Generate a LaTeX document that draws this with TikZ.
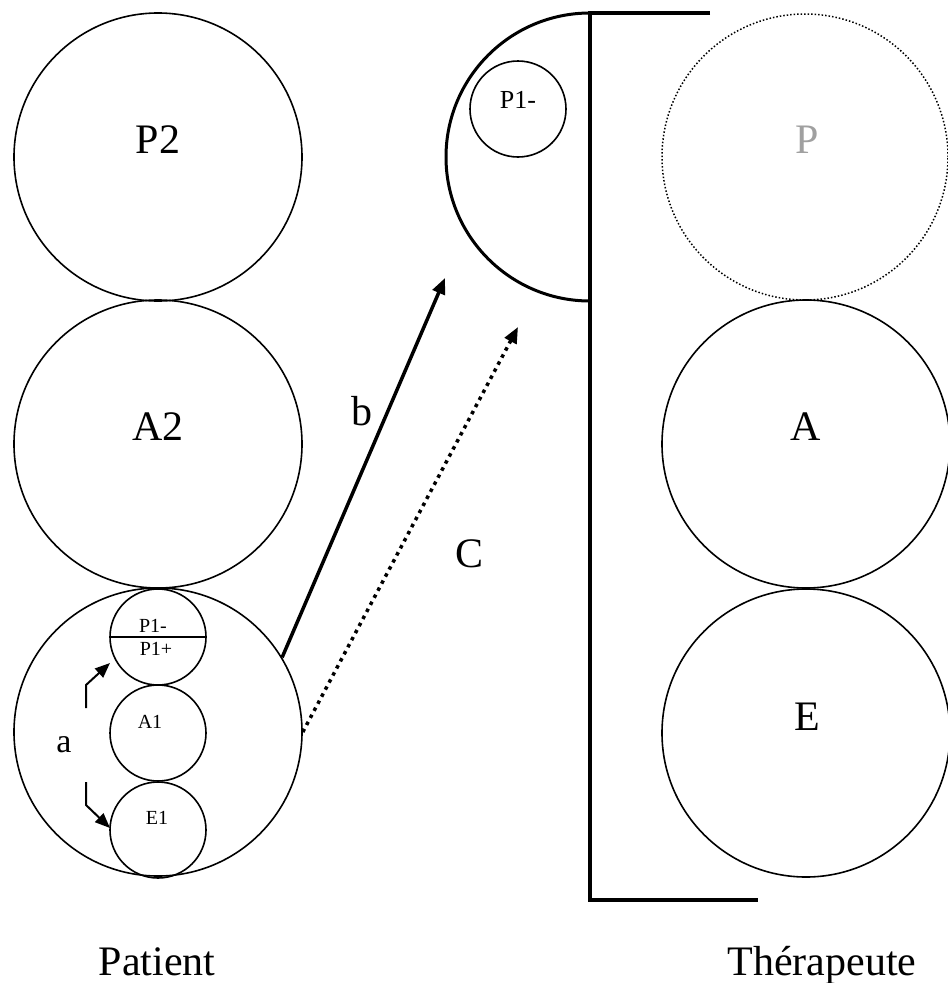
\documentclass[tikz,border=0pt]{standalone}
\usepackage{fontspec}
\setmainfont{Liberation Serif}
\usetikzlibrary{arrows.meta}
\definecolor{lbgray}{HTML}{A0A0A0}
\begin{document}
\begin{tikzpicture}[x=1pt,y=-1pt,
  circ/.style={draw, circle, line width=1.6pt, inner sep=0pt, minimum size=#1},
  dotcirc/.style={draw, circle, line width=1.5pt, dash pattern=on 1.5pt off 2pt, inner sep=0pt, minimum size=#1},
  big/.style={anchor=base, inner sep=0pt, font=\fontsize{42}{48}\selectfont},
  mid/.style={anchor=base, inner sep=0pt, font=\fontsize{26}{30}\selectfont},
  small/.style={anchor=base, inner sep=0pt, font=\fontsize{20}{24}\selectfont},
  thickarrow/.style={line width=3.5pt, -{Triangle[length=16pt,width=13pt]}},
  dotarrow/.style={line width=3.5pt, dash pattern=on 3.5pt off 4.5pt, -{Triangle[length=16pt,width=13pt]}},
  aarrow/.style={line width=2pt, -{Triangle[length=15pt,width=12pt]}},
  heavy/.style={line width=3.5pt},
]
\useasboundingbox (0,0) rectangle (948,983);

% Patient side
\node[circ=288pt] (P2) at (158,157) {};
\node[circ=288pt] (A2) at (158,444) {};
\node[circ=288pt] (PA) at (158,732) {};
\node[circ=96pt] (P1) at (158,637) {};
\node[circ=96pt] (A1) at (158,733) {};
\node[circ=96pt] (E1) at (158,830) {};
\draw[line width=1.6pt] (P1.west) -- (P1.east);

\node[big] (lP2) at (158,153) {P2};
\node[big] (lA2) at (158,440) {A2};
\node[small] (lP1m) at (153,632) {P1-};
\node[small] (lP1p) at (156,655) {P1+};
\node[small] (lA1) at (150,728) {A1};
\node[small] (lE1) at (157,824) {E1};

% arrow a
\coordinate (a1) at (86,708);
\coordinate (a2) at (86,685);
\coordinate (a3) at (110,663);
\coordinate (a4) at (86,782);
\coordinate (a5) at (86,805);
\coordinate (a6) at (110,828);
\draw[aarrow] (a1) -- (a2) -- (a3);
\draw[aarrow] (a4) -- (a5) -- (a6);
\node[anchor=base, inner sep=0pt, font=\fontsize{34}{40}\selectfont] (la) at (64,752) {a};

% arrows b and c
\coordinate (bt) at (445,278);
\coordinate (ct) at (518,327);
\draw[thickarrow] (PA.31) -- (bt);
\draw[dotarrow] (PA.east) -- (ct);
\node[big] (lb) at (362,425) {b};
\node[big] (lc) at (470,567) {C};

% frame and half circle
\coordinate (f1) at (710,13);
\coordinate (f2) at (590,13);
\coordinate (f3) at (590,900);
\coordinate (f4) at (758,900);
\draw[heavy] (f1) -- (f2) -- (f3) -- (f4);
\draw[line width=3pt] (f2) arc[start angle=270, end angle=90, radius=144];
\node[circ=96pt] (Q1) at (518,109) {};
\node[mid] (lQ1) at (518,108) {P1-};

% Therapist side
\node[dotcirc=286pt] (P) at (805,157) {};
\node[circ=288pt] (A) at (806,444) {};
\node[circ=288pt] (E) at (806,733) {};
\node[big, text=lbgray] (lP) at (807,153) {P};
\node[big] (lA) at (806,440) {A};
\node[big] (lE) at (807,730) {E};

\node[big] (pat) at (157,975) {Patient};
\node[big] (ther) at (822,975) {Thérapeute};
\end{tikzpicture}
\end{document}
